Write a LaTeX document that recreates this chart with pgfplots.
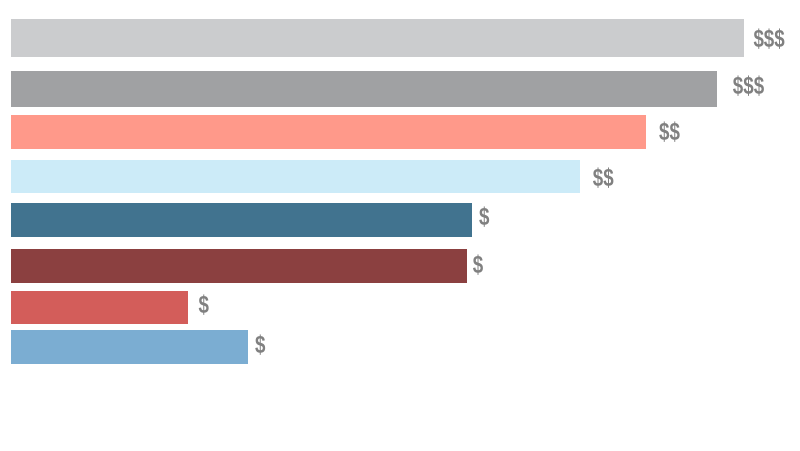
\documentclass[border=0pt]{standalone}
\usepackage{pgfplots}
\pgfplotsset{compat=1.18}
\usepackage{fontspec}
\setmainfont{Liberation Sans}
\newfontfamily\labfont[FakeStretch=0.75]{Liberation Sans}

\definecolor{c1}{RGB}{203,204,206}
\definecolor{c2}{RGB}{160,161,163}
\definecolor{c3}{RGB}{255,153,138}
\definecolor{c4}{RGB}{204,235,248}
\definecolor{c5}{RGB}{65,115,143}
\definecolor{c6}{RGB}{139,64,64}
\definecolor{c7}{RGB}{211,93,90}
\definecolor{c8}{RGB}{123,173,210}
\definecolor{labgray}{RGB}{128,128,128}

\begin{document}
\begin{tikzpicture}
\useasboundingbox (0,0) rectangle (800pt,450pt);
\begin{axis}[
    at={(0,0)}, anchor=south west,
    scale only axis, width=800pt, height=450pt,
    xmin=-11, xmax=789, ymin=0, ymax=450,
    y dir=reverse, hide axis, clip=false,
]
% bar lengths, y = bar centre
\addplot[xbar, bar shift=0pt, bar width=37.4, fill=c1, draw=none] coordinates {(733,38)};
\addplot[xbar, bar shift=0pt, bar width=36.3, fill=c2, draw=none] coordinates {(705.7,89.2)};
\addplot[xbar, bar shift=0pt, bar width=33.5, fill=c3, draw=none] coordinates {(635,131.8)};
\addplot[xbar, bar shift=0pt, bar width=33.3, fill=c4, draw=none] coordinates {(569,176.7)};
\addplot[xbar, bar shift=0pt, bar width=34, fill=c5, draw=none] coordinates {(461.3,219.7)};
\addplot[xbar, bar shift=0pt, bar width=33.7, fill=c6, draw=none] coordinates {(455.7,265.8)};
\addplot[xbar, bar shift=0pt, bar width=33.6, fill=c7, draw=none] coordinates {(177.3,307.5)};
\addplot[xbar, bar shift=0pt, bar width=33.7, fill=c8, draw=none] coordinates {(236.7,347.2)};
% price labels
\addplot[draw=none, mark=none, nodes near coords, point meta=explicit symbolic,
    nodes near coords align=horizontal,
    every node near coord/.append style={anchor=west, inner sep=0pt,
        font=\labfont\bfseries\fontsize{25}{28}\selectfont, text=labgray}]
coordinates {
    (742.3,39.5) [\$\$\$]
    (721.7,86.3) [\$\$\$]
    (648,132.5) [\$\$]
    (581.7,177.8) [\$\$]
    (468,217) [\$]
    (461.7,265) [\$]
    (187.3,305) [\$]
    (244,345) [\$]
};
\end{axis}
\end{tikzpicture}
\end{document}
